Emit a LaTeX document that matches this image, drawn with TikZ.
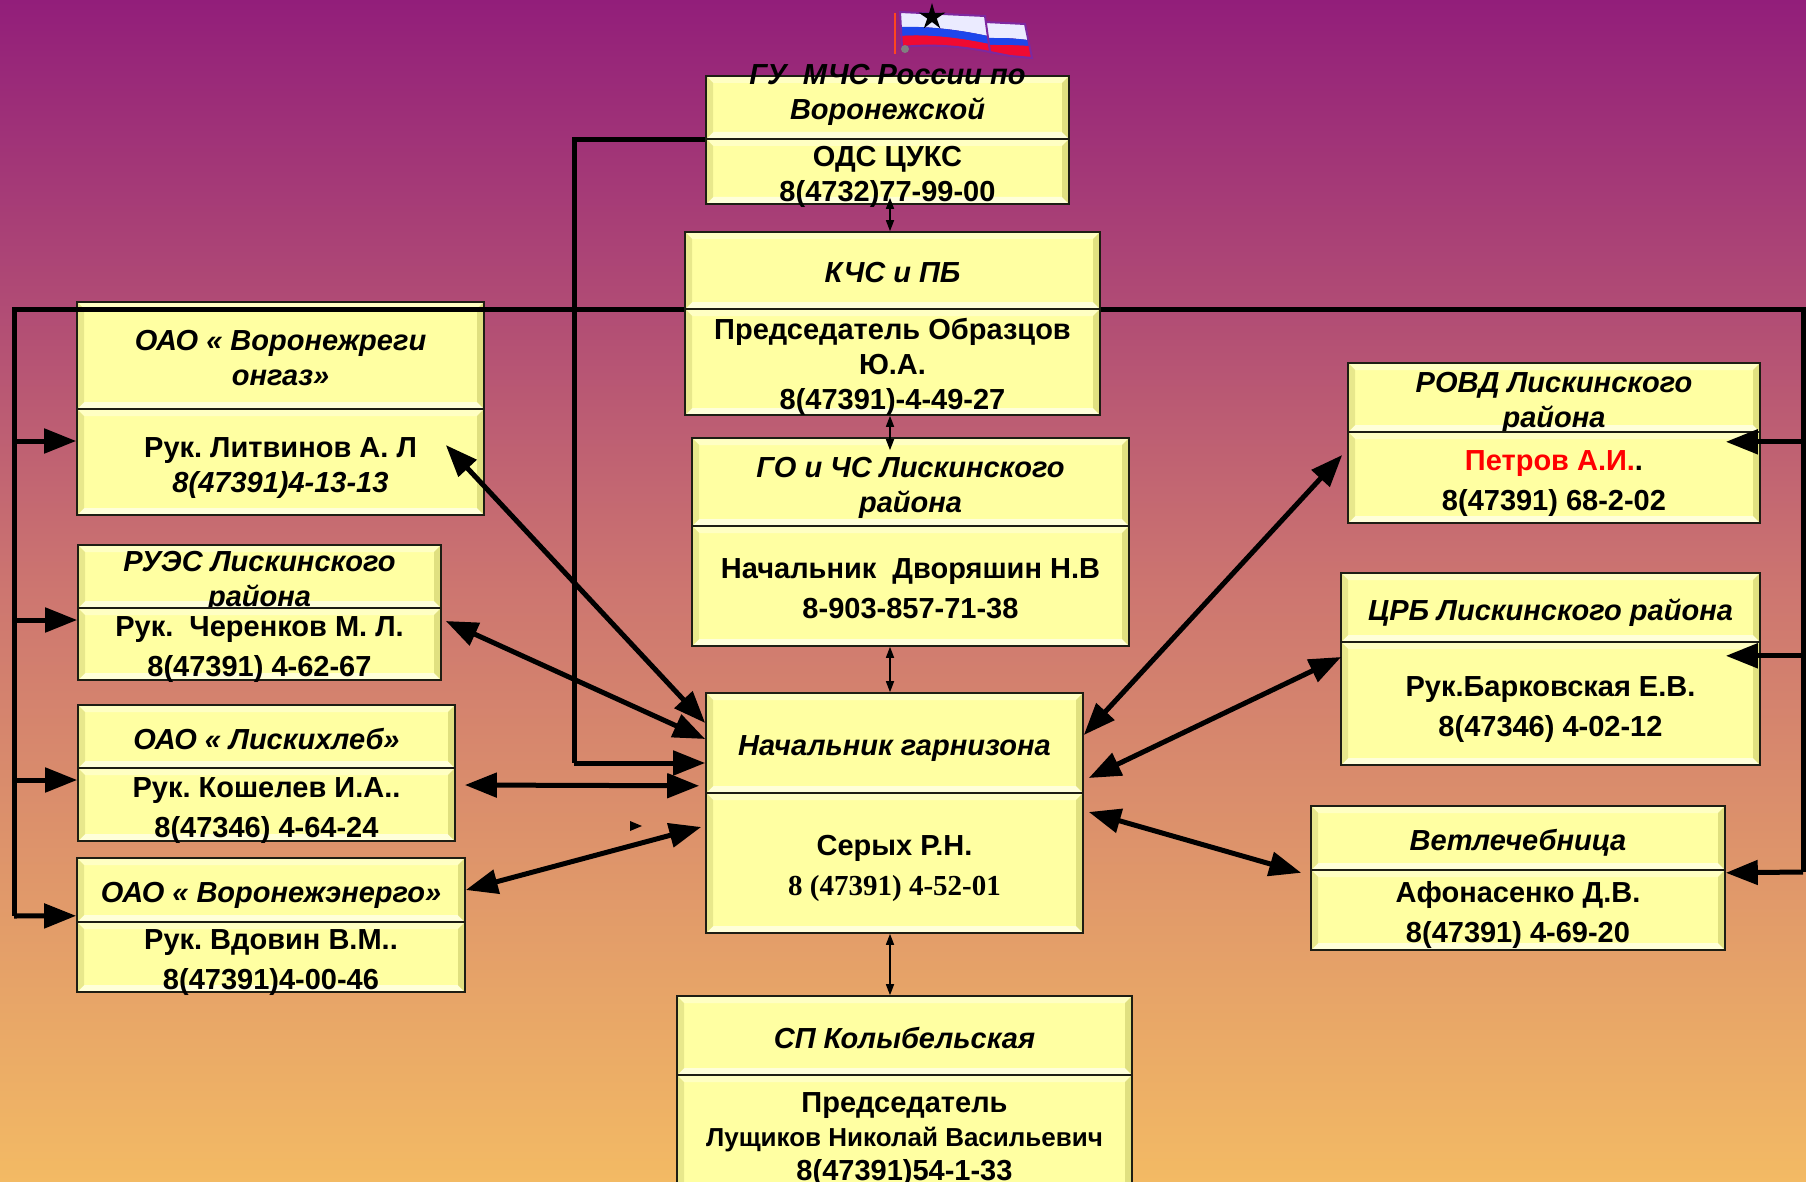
\documentclass[tikz,border=0pt]{standalone}
\usepackage{fontspec}
\setmainfont{Liberation Sans}
\newfontfamily\timesfont{Liberation Serif}
\usetikzlibrary{arrows.meta,shapes.geometric}

\definecolor{bgtop}{RGB}{146,30,122}
\definecolor{bgmid}{RGB}{205,118,112}
\definecolor{bgbot}{RGB}{243,186,100}
\definecolor{boxfill}{RGB}{255,255,162}
\definecolor{bevtop}{RGB}{255,255,195}
\definecolor{bevbot}{RGB}{255,255,218}
\definecolor{bevleft}{RGB}{232,232,140}
\definecolor{bevright}{RGB}{224,224,128}
\definecolor{boxline}{RGB}{30,30,20}
\definecolor{flagred}{RGB}{240,10,50}
\definecolor{flagblue}{RGB}{30,70,235}
\definecolor{flagwhite}{RGB}{235,235,255}
\definecolor{flagrim}{RGB}{125,40,160}
\definecolor{flagpole}{RGB}{255,70,30}

\tikzset{
  bevelled/.style={path picture={
    \path (path picture bounding box.south west) coordinate (b1)
          ([shift={(7pt,7pt)}]path picture bounding box.south west) coordinate (i1)
          (path picture bounding box.north east) coordinate (b3)
          ([shift={(-7pt,-7pt)}]path picture bounding box.north east) coordinate (i3);
    \fill[bevtop] (b1|-b3) -- (b3) -- (i3) -- (i1|-i3) -- cycle;
    \fill[bevbot] (b1) -- (b3|-b1) -- (i3|-i1) -- (i1) -- cycle;
    \fill[bevleft] (b1) -- (b1|-b3) -- (i1|-i3) -- (i1) -- cycle;
    \fill[bevright] (b3|-b1) -- (b3) -- (i3) -- (i3|-i1) -- cycle;
  }},
  struts/.style={text height=#1, text depth=0pt},
  struts/.default=25pt,
  part/.style={draw=boxline, line width=1.6pt, fill=boxfill, bevelled, inner sep=0pt, align=center, struts},
  title/.style={part, font=\fontsize{29}{35}\selectfont\bfseries\itshape},
  body/.style={part, font=\fontsize{29}{40}\selectfont\bfseries},
  bodytight/.style={part, font=\fontsize{29}{35}\selectfont\bfseries},
  words/.style={inner sep=0pt, align=center, font=\fontsize{29}{35}\selectfont\bfseries\itshape},
  big/.style={line width=5pt, {Triangle[length=32pt,width=24pt]}-{Triangle[length=32pt,width=24pt]}},
  bus/.style={line width=5pt},
  busarrow/.style={line width=5pt, -{Triangle[length=32pt,width=24pt]}},
  link/.style={line width=1.5pt, {Triangle[length=11pt,width=8pt]}-{Triangle[length=11pt,width=8pt]}}
}

\begin{document}
\frenchspacing
\begin{tikzpicture}[x=1pt,y=-1pt]
  \useasboundingbox (0,0) rectangle (1806,1182);
  \shade[top color=bgtop, bottom color=bgbot, middle color=bgmid] (0,0) rectangle (1806,1182);

  % flag
  \draw[line width=2.5pt, flagpole] (895,13) -- (895,54);
  \fill[flagwhite] (985,22) -- (1025,24) -- (1028,40) .. controls (1010,38) .. (987,38) -- cycle;
  \fill[flagblue] (987,38) .. controls (1010,38) .. (1028,40) -- (1029,46) .. controls (1010,45) .. (988,45) -- cycle;
  \fill[flagred] (988,45) .. controls (1010,45) .. (1029,46) -- (1032,58) -- (1010,56) -- (990,52) -- cycle;
  \draw[flagrim, line width=2pt] (985,22) -- (1025,24) -- (1032,58) -- (1010,56) -- (990,52);
  \fill[flagwhite] (900,12) -- (985,16) -- (988,36) .. controls (960,30) and (930,26) .. (900,27) -- cycle;
  \fill[flagblue] (900,27) .. controls (930,26) and (960,30) .. (988,36) -- (989,44) .. controls (960,38) and (930,34) .. (900,36) -- cycle;
  \fill[flagred] (900,36) .. controls (930,34) and (960,38) .. (989,44) -- (990,52) .. controls (960,46) and (930,44) .. (902,47) -- cycle;
  \draw[flagrim, line width=2pt] (900,12) -- (985,16) -- (990,52) .. controls (960,46) and (930,44) .. (902,47) -- cycle;
  \fill[gray] (905,49) circle (4pt);
  \node[star, star points=5, star point ratio=2.8, fill=black, minimum size=28pt, inner sep=0pt] (emblem) at (932,17) {};

  % top of the chain
  \node[title, minimum width=363pt, minimum height=63pt] (gu) at (887.5,107.5) {};
  \node[words, struts=60pt] (gutitle) at (887.5,90) {ГУ~~МЧС России по\\Воронежской};
  \node[bodytight, struts=60pt, minimum width=363pt, minimum height=65pt] (gub) at (887.5,171.5) {ОДС ЦУКС\\8(4732)77-99-00};

  \node[title, minimum width=415pt, minimum height=77pt] (kchs) at (892.5,270.5) {КЧС и ПБ};
  \node[bodytight, struts=95pt, minimum width=415pt, minimum height=106pt] (kchsb) at (892.5,362) {Председатель Образцов\\Ю.А.\\8(47391)-4-49-27};

  \node[title, struts=60pt, minimum width=437pt, minimum height=88pt] (gochs) at (910.5,482) {ГО и ЧС Лискинского\\района};
  \node[body, struts=65pt, minimum width=437pt, minimum height=120pt] (gochsb) at (910.5,586) {Начальник~ Дворяшин Н.В\\8-903-857-71-38};

  \node[title, minimum width=377pt, minimum height=100pt] (garn) at (894.5,743) {Начальник гарнизона};
  \node[body, struts=65pt, minimum width=377pt, minimum height=140pt] (garnb) at (894.5,863) {Серых Р.Н.\\{\timesfont 8 (47391) 4-52-01}};

  \node[title, minimum width=455pt, minimum height=79pt] (sp) at (904.5,1035.5) {СП Колыбельская};
  \node[part, struts=89pt, font=\fontsize{29}{34}\selectfont\bfseries, minimum width=455pt, minimum height=122pt] (spb) at (904.5,1136) {Председатель\\{\fontsize{26}{33}\selectfont Лущиков Николай Васильевич}\\8(47391)54-1-33};

  % left column
  \node[title, struts=60pt, minimum width=407pt, minimum height=107pt] (gaz) at (280.5,355.5) {ОАО « Воронежреги\\онгаз»};
  \node[bodytight, struts=60pt, minimum width=407pt, minimum height=106pt] (gazb) at (280.5,462) {Рук. Литвинов А. Л\\{\itshape 8(47391)4-13-13}};

  \node[title, struts=60pt, minimum width=363pt, minimum height=63pt] (rues) at (259.5,576.5) {РУЭС Лискинского\\района};
  \node[body, struts=65pt, minimum width=363pt, minimum height=72pt] (ruesb) at (259.5,644) {Рук.~ Черенков М. Л.\\8(47391) 4-62-67};

  \node[title, minimum width=377pt, minimum height=63pt] (hleb) at (266.5,736.5) {ОАО « Лискихлеб»};
  \node[body, struts=65pt, minimum width=377pt, minimum height=73pt] (hlebb) at (266.5,804.5) {Рук. Кошелев И.А..\\8(47346) 4-64-24};

  \node[title, minimum width=388pt, minimum height=64pt] (energo) at (271,890) {ОАО « Воронежэнерго»};
  \node[body, struts=65pt, minimum width=388pt, minimum height=70pt] (energob) at (271,957) {Рук. Вдовин В.М..\\8(47391)4-00-46};

  % right column
  \node[title, struts=60pt, minimum width=412pt, minimum height=69pt] (rovd) at (1554,397.5) {РОВД Лискинского\\района};
  \node[body, struts=65pt, minimum width=412pt, minimum height=91pt] (rovdb) at (1554,477.5) {\textcolor{red}{Петров А.И.}.\\8(47391) 68-2-02};

  \node[title, minimum width=419pt, minimum height=69pt] (crb) at (1550.5,607.5) {ЦРБ Лискинского района};
  \node[body, struts=65pt, minimum width=419pt, minimum height=123pt] (crbb) at (1550.5,703.5) {Рук.Барковская Е.В.\\8(47346) 4-02-12};

  \node[title, minimum width=414pt, minimum height=64pt] (vet) at (1518,838) {Ветлечебница};
  \node[body, struts=65pt, minimum width=414pt, minimum height=80pt] (vetb) at (1518,910) {Афонасенко Д.В.\\8(47391) 4-69-20};

  % bus lines
  \coordinate (lbend) at (14,916);
  \coordinate (rbend) at (1803,872);
  \coordinate (gucorner) at (574,763);
  \coordinate (axis) at (890,0);
  \draw[bus] (kchs.south west) -| (lbend);
  \draw[bus] (kchs.south east) -| (rbend);
  \draw[bus] (gu.south west) -| (gucorner);
  \draw[busarrow] (gucorner) -- (gucorner -| garn.west);

  \coordinate (gazin) at ([yshift=21pt]gazb.west);
  \coordinate (ruesin) at ([yshift=24pt]ruesb.west);
  \coordinate (hlebin) at ([yshift=24.5pt]hlebb.west);
  \coordinate (energoin) at ([yshift=7pt]energo.south west);
  \draw[busarrow] (lbend |- gazin) -- (gazin);
  \draw[busarrow] (lbend |- ruesin) -- (ruesin);
  \draw[busarrow] (lbend |- hlebin) -- (hlebin);
  \draw[busarrow] (lbend) -- (energoin);

  \coordinate (rovdin) at ([xshift=-35pt,yshift=-9pt]rovd.south east);
  \coordinate (crbin) at ([xshift=-35pt,yshift=-13pt]crb.south east);
  \coordinate (vetin) at ([yshift=-2pt]vet.south east);
  \draw[busarrow] (rbend |- rovdin) -- (rovdin);
  \draw[busarrow] (rbend |- crbin) -- (crbin);
  \draw[busarrow] (rbend) -- (vetin);

  % thin links down the middle
  \coordinate (gulow) at ([yshift=7pt]gub.south);
  \coordinate (gochstop) at ([yshift=-13pt]gochs.north);
  \draw[link] (gulow -| axis) -- (kchs.north -| axis);
  \draw[link] (kchsb.south -| axis) -- (gochstop -| axis);
  \draw[link] (gochsb.south -| axis) -- (garn.north -| axis);
  \draw[link] (garnb.south -| axis) -- (sp.north -| axis);

  % links to the garrison
  \draw[big] ([xshift=-39pt,yshift=17pt]gazb.east) -- ([yshift=20pt]garn.west);
  \draw[big] ([xshift=4pt,yshift=23pt]ruesb.east) -- ([yshift=4pt]garn.west);
  \draw[big] ([xshift=9pt,yshift=19.5pt]hlebb.east) -- ([xshift=-6pt,yshift=8pt]garn.south west);
  \draw[big] (energo.east) -- ([xshift=-4pt,yshift=36pt]garnb.west);
  \draw[big] ([yshift=8pt]garn.east) -- ([xshift=-5pt,yshift=22.5pt]rovdb.west);
  \draw[big] ([xshift=5pt,yshift=-35pt]garn.east) -- ([xshift=1pt,yshift=46.5pt]crbb.west);
  \draw[big] ([xshift=5pt,yshift=51pt]garnb.east) -- ([xshift=-9pt,yshift=-2pt]vet.south west);
  \fill (630,821) -- (642,826) -- (630,831) -- cycle;
\end{tikzpicture}
\end{document}
